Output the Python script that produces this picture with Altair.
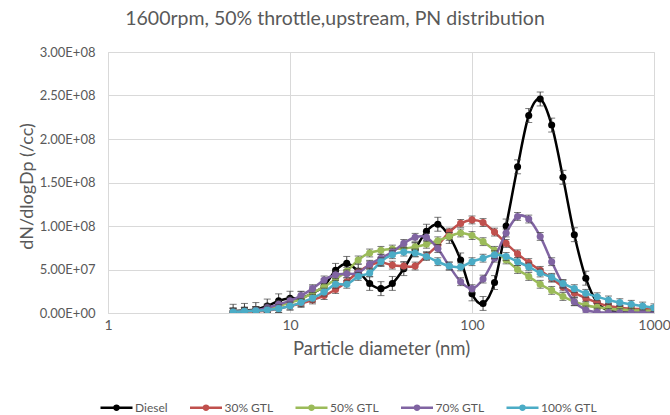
import altair as alt
import pandas as pd

# Particle diameter bins (nm)
diam = [4.87, 5.62, 6.49, 7.50, 8.66, 10.0, 11.5, 13.3, 15.4, 17.8, 20.5, 23.7,
        27.4, 31.6, 36.5, 42.2, 48.7, 56.2, 64.9, 75.0, 86.6, 100, 115, 133,
        154, 178, 205, 237, 274, 316, 365, 422, 487, 562, 649, 750, 866, 1000]

# dN/dlogDp values in units of 1e6 /cc
diesel = [2, 3, 4, 8, 14, 17, 17, 23, 31, 49, 57, 48, 34, 28, 34, 51, 73, 94,
          102, 88, 61, 22, 11, 35, 100, 168, 227, 246, 216, 156, 90, 40, 12, 3,
          1, 0.5, 0.3, 0.2]
gtl30 = [1, 1.5, 2, 3, 5, 8, 11, 15, 20, 27, 36, 47, 55, 58, 55, 54, 54, 66,
         78, 93, 103, 107, 104, 93, 80, 68, 58, 49, 40, 30, 23, 17, 12, 8, 6,
         5, 4.5, 4]
gtl50 = [1, 2, 3, 5, 8, 12, 16, 23, 30, 39, 48, 61, 69, 72, 73.5, 74, 76, 79,
         83, 88, 92, 89, 82, 72, 61, 50, 42, 33, 26, 19, 13, 9, 6.5, 5, 4, 3,
         3, 2.5]
gtl70 = [1, 2, 3, 6, 10, 14, 20, 28, 38, 44, 45, 46, 56, 63, 70, 80, 87, 87,
         74, 54, 36, 28, 39, 63, 92, 111, 108, 88, 59, 33, 13, 3.5, 1, 0.5,
         0.3, 0.2, 0.2, 0.2]
gtl100 = [1, 2, 2.5, 3.5, 5, 8, 12, 17, 24, 33, 33, 42, 46, 59, 67, 70, 69, 65,
          59, 54, 53, 59, 63, 67, 65, 59, 53, 46, 41, 34, 28, 22.6, 18.7, 15,
          12, 10, 8, 6]

series_names = ["Diesel", "30% GTL", "50% GTL", "70% GTL", "100% GTL"]
series_vals = [diesel, gtl30, gtl50, gtl70, gtl100]
series_err = [8, 4.5, 4.5, 4.5, 4.5]   # error bar half-height, 1e6 /cc
colors = ["#000000", "#C0504D", "#9BBB59", "#8064A2", "#4BACC6"]
UNIT = 1e6

rows = []
for name, vals, err in zip(series_names, series_vals, series_err):
    for d, v in zip(diam, vals):
        rows.append({"series": name, "d": d, "v": v * UNIT,
                     "lo": max(v - err, 0) * UNIT, "hi": (v + err) * UNIT})
df = pd.DataFrame(rows)

TXT = "#595959"
GRID = "#d9d9d9"
FONT = "Lato"

xenc = alt.X("d:Q", scale=alt.Scale(type="log", domain=[1, 1000]),
             axis=alt.Axis(values=[1, 10, 100, 1000], format="d",
                           title="Particle diameter (nm)", tickSize=0,
                           labelFlush=False, labelPadding=5,
                           labelFontSize=14, labelColor=TXT,
                           labelFont=FONT, domainColor=GRID, gridColor=GRID,
                           titleFontSize=18.5, titleFont=FONT, titleColor=TXT,
                           titleFontWeight="normal", titleY=26,
                           titleBaseline="top"))
yscale = alt.Scale(domain=[0, 3e8])
yaxis = alt.Axis(values=[0, 5e7, 1e8, 1.5e8, 2e8, 2.5e8, 3e8],
                 labelExpr="replace(format(datum.value, '.2e'), 'e+', 'E+0')",
                 title="dN/dlogDp (/cc)", tickSize=0, domain=False,
                 labelFlush=False, labelPadding=13, labelFontSize=13,
                 labelColor=TXT, labelFont=FONT, gridColor=GRID,
                 titleFontSize=18, titleFont=FONT, titleColor=TXT,
                 titleFontWeight="normal", titleX=-81, titleY=134,
                 titleAngle=-90, titleAlign="center", titleBaseline="middle")
yenc = alt.Y("v:Q", scale=yscale, axis=yaxis)

legend_sym = "M-1,0L1,0M-0.13,0A0.13,0.13 0 1,1 0.13,0A0.13,0.13 0 1,1 -0.13,0Z"
cenc = alt.Color("series:N",
                 scale=alt.Scale(domain=series_names, range=colors),
                 legend=alt.Legend(title=None, orient="none", legendX=-9,
                                   legendY=338, direction="horizontal",
                                   columns=5, symbolType=legend_sym,
                                   symbolSize=1024, symbolStrokeWidth=2.5,
                                   labelFontSize=12, labelColor=TXT,
                                   labelFont=FONT, labelOffset=1,
                                   columnPadding=16.5))

layers = []
for name, col in zip(series_names, colors):
    base = alt.Chart(df).transform_filter(alt.datum.series == name)
    layers.append(base.mark_line(interpolate="cardinal", strokeWidth=2.5,
                                 clip=True).encode(x=xenc, y=yenc, color=cenc))
    layers.append(base.mark_rule(color="#404040", strokeWidth=1, clip=True)
                  .encode(x=xenc, y=alt.Y("lo:Q", scale=yscale), y2="hi:Q"))
    layers.append(base.mark_tick(orient="horizontal", size=7, thickness=1,
                                 color="#404040", clip=True)
                  .encode(x=xenc, y=alt.Y("lo:Q", scale=yscale)))
    layers.append(base.mark_tick(orient="horizontal", size=7, thickness=1,
                                 color="#404040", clip=True)
                  .encode(x=xenc, y=alt.Y("hi:Q", scale=yscale)))
    layers.append(base.mark_point(filled=True, size=50, opacity=1, clip=True,
                                  color=col)
                  .encode(x=xenc, y=yenc))

chart = alt.layer(*layers).properties(
    width=546, height=261,
    autosize=alt.AutoSizeParams(type="none"),
    padding={"left": 108, "top": 52, "right": 16, "bottom": 102},
    title=alt.Title("1600rpm, 50% throttle,upstream, PN distribution",
                    fontSize=19.5, font=FONT, color=TXT, fontWeight="normal",
                    anchor="middle", frame="group", dx=-46, offset=17),
).configure_view(stroke="transparent").configure(background="white")

chart.save("out.html", embed_options={"renderer": "svg", "actions": False})
